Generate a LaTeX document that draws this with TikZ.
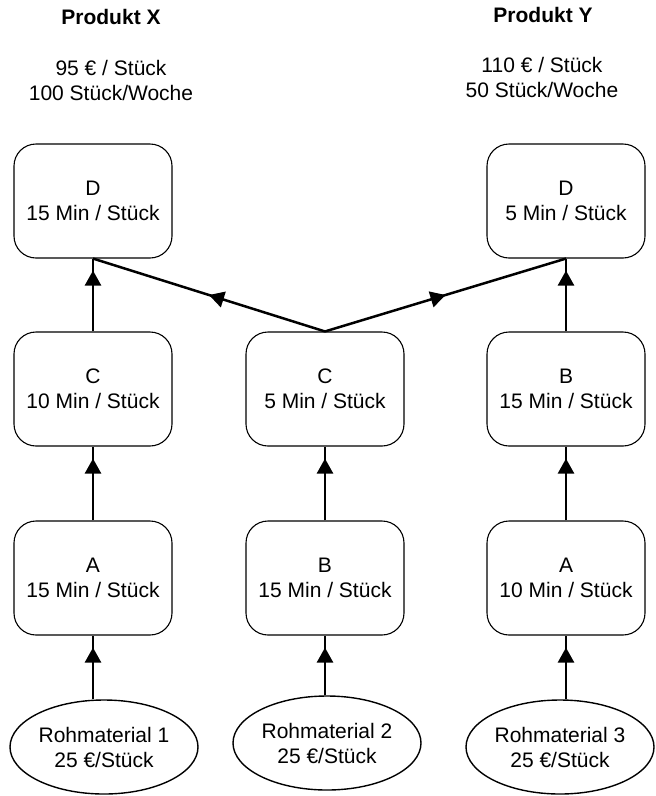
\documentclass[tikz,border=0pt]{standalone}
\usepackage{fontspec}
\setmainfont{Liberation Sans}
\usetikzlibrary{arrows.meta,shapes.geometric,decorations.markings}

\begin{document}
\begin{tikzpicture}[x=1pt,y=-1pt,
  font=\fontsize{21}{25}\selectfont,
  station/.style={draw,line width=1.1pt,rounded corners=22pt,minimum width=158pt,minimum height=114pt,align=center,inner sep=0pt},
  rohstoff/.style={draw,ellipse,line width=1.4pt,minimum width=188pt,minimum height=94pt,align=center,inner sep=0pt},
  spitze/.tip={Triangle[length=15pt,width=16pt]},
  fluss/.style={line width=2.5pt,postaction={decorate},decoration={markings,mark=at position -12pt with {\arrow{spitze}}}},
  mitte/.style={line width=2.5pt,postaction={decorate},decoration={markings,mark=at position 0.5 with {\arrow{spitze}}}},
  titel/.style={font=\fontsize{21}{25}\selectfont\bfseries},
  info/.style={align=center}]
\useasboundingbox (0,0) rectangle (656,796);
\node[titel] (px) at (111,17) {Produkt X};
\node[titel] (py) at (543,15) {Produkt Y};
\node[info] (ix) at (111,80) {95 € / Stück\\100 Stück/Woche};
\node[info] (iy) at (542,77) {110 € / Stück\\50 Stück/Woche};
\node[station] (d1) at (93,201) {D\\15 Min / Stück};
\node[station] (c1) at (93,389) {C\\10 Min / Stück};
\node[station] (a1) at (93,578) {A\\15 Min / Stück};
\node[station] (c2) at (325,389) {C\\5 Min / Stück};
\node[station] (b2) at (325,578) {B\\15 Min / Stück};
\node[station] (d3) at (566,201) {D\\5 Min / Stück};
\node[station] (b3) at (566,389) {B\\15 Min / Stück};
\node[station] (a3) at (566,578) {A\\10 Min / Stück};
\node[rohstoff] (r1) at (104,747) {Rohmaterial 1\\25 €/Stück};
\node[rohstoff] (r2) at (327,743) {Rohmaterial 2\\25 €/Stück};
\node[rohstoff] (r3) at (560,747) {Rohmaterial 3\\25 €/Stück};
\draw[fluss] (r1.north -| a1.south) -- (a1.south);
\draw[fluss] (a1.north) -- (c1.south);
\draw[fluss] (c1.north) -- (d1.south);
\draw[fluss] (r2.north -| b2.south) -- (b2.south);
\draw[fluss] (b2.north) -- (c2.south);
\draw[fluss] (r3.north -| a3.south) -- (a3.south);
\draw[fluss] (a3.north) -- (b3.south);
\draw[fluss] (b3.north) -- (d3.south);
\draw[mitte] (c2.north) -- (d1.south);
\draw[mitte] (c2.north) -- (d3.south);
\end{tikzpicture}
\end{document}
